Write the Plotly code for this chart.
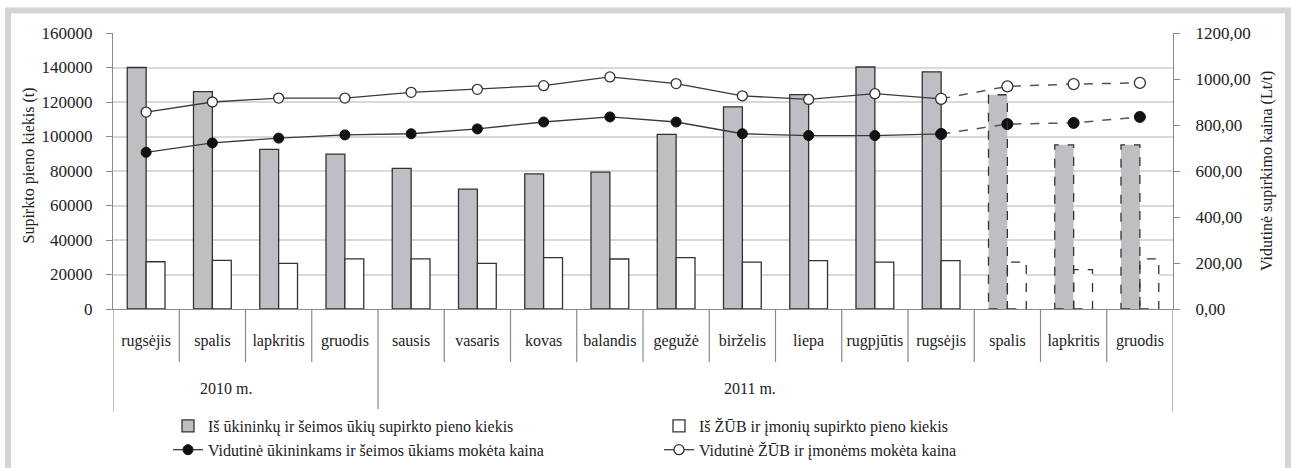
import plotly.graph_objects as go

months = ["rugsėjis", "spalis", "lapkritis", "gruodis", "sausis", "vasaris", "kovas",
          "balandis", "gegužė", "birželis", "liepa", "rugpjūtis", "rugsėjis", "spalis",
          "lapkritis", "gruodis"]
years = ["2010 m.", "2011 m."]
farm_qty = [140000, 126000, 92500, 89800, 81500, 69500, 78300, 79300, 101200, 117200,
            124300, 140300, 137500, 124200, 95200, 95200]
company_qty = [27400, 28200, 26400, 29100, 29100, 26400, 29800, 29000, 29800, 27200,
               28000, 27200, 28000, 27200, 22800, 29100]
farm_price = [681, 722, 743, 757, 762, 783, 813, 835, 813, 762, 754, 754, 761, 804, 809, 835]
company_price = [856, 900, 917, 917, 942, 955, 971, 1009, 980, 927, 911, 936, 914, 968, 978, 983]
left_ticks = [0, 20000, 40000, 60000, 80000, 100000, 120000, 140000, 160000]
left_text = ["0", "20000", "40000", "60000", "80000", "100000", "120000", "140000", "160000"]
right_ticks = [0, 200, 400, 600, 800, 1000, 1200]
right_text = ["0,00", "200,00", "400,00", "600,00", "800,00", "1000,00", "1200,00"]
n_actual = 13  # first 13 months actual, rest forecast

idx = list(range(len(months)))
FONT = '"Liberation Serif", "Times New Roman", Times, serif'
BW = 0.285
TXT = "#222222"

fig = go.Figure()
fig.add_trace(go.Bar(
    x=idx, y=farm_qty, width=BW, offset=-BW,
    name="Iš ūkininkų ir šeimos ūkių supirkto pieno kiekis",
    marker=dict(color="#bebfc3",
                line=dict(color="#333333",
                          width=[1.3] * n_actual + [0] * (len(idx) - n_actual))),
))
fig.add_trace(go.Bar(
    x=idx, y=company_qty, width=BW, offset=0,
    name="Iš ŽŪB ir įmonių supirkto pieno kiekis",
    marker=dict(color="white",
                line=dict(color="#333333",
                          width=[1.3] * n_actual + [0] * (len(idx) - n_actual))),
))
fig.add_trace(go.Scatter(
    x=idx[:n_actual], y=farm_price[:n_actual], yaxis="y2", mode="lines+markers",
    name="Vidutinė ūkininkams ir šeimos ūkiams mokėta kaina",
    line=dict(color="#3a3a3a", width=1.3),
    marker=dict(color="#111111", size=10, line=dict(color="#111111", width=1)),
))
fig.add_trace(go.Scatter(
    x=idx[:n_actual], y=company_price[:n_actual], yaxis="y2", mode="lines+markers",
    name="Vidutinė ŽŪB ir įmonėms mokėta kaina",
    line=dict(color="#3a3a3a", width=1.3),
    marker=dict(color="white", size=10, line=dict(color="#333333", width=1.3)),
))
fig.add_trace(go.Scatter(
    x=idx[n_actual - 1:], y=farm_price[n_actual - 1:], yaxis="y2", mode="lines+markers",
    showlegend=False,
    line=dict(color="#555555", width=1.5, dash="dash"),
    marker=dict(color="#111111", size=11, line=dict(color="#111111", width=1)),
))
fig.add_trace(go.Scatter(
    x=idx[n_actual - 1:], y=company_price[n_actual - 1:], yaxis="y2", mode="lines+markers",
    showlegend=False,
    line=dict(color="#555555", width=1.5, dash="dash"),
    marker=dict(color="white", size=11, line=dict(color="#333333", width=1.3)),
))

shapes = []
# dashed outlines of forecast bars
for i in idx[n_actual:]:
    shapes.append(dict(type="rect", xref="x", yref="y", x0=i - BW, x1=i, y0=0, y1=farm_qty[i],
                       line=dict(color="#333333", width=1.3, dash="dash")))
    shapes.append(dict(type="rect", xref="x", yref="y", x0=i, x1=i + BW, y0=0, y1=company_qty[i],
                       line=dict(color="#333333", width=1.3, dash="dash")))

# category separators
H = 276.0
short_y = -(362 - 309) / H
long_y = -(411.7 - 309) / H
for k in range(len(idx) + 1):
    xb = k - 0.5
    long = k in (0, 4, len(idx))
    shapes.append(dict(type="line", xref="x", yref="paper", x0=xb, x1=xb, y0=0,
                       y1=long_y if long else short_y,
                       line=dict(color="#8a8a8a", width=1.2)))

# outer grey frame
W = 1060.0
shapes.append(dict(type="rect", xref="paper", yref="paper",
                   x0=(8 - 113) / W, x1=(1288 - 113) / W,
                   y0=(309 - 480) / H, y1=(309 - 10.5) / H,
                   line=dict(color="#d4d4d4", width=6), layer="below"))

annotations = [
    dict(text=years[0], x=1.2, y=-(388 - 309) / H, xref="x", yref="paper",
         xanchor="center", yanchor="middle",
         showarrow=False, font=dict(family=FONT, size=16, color=TXT)),
    dict(text=years[1], x=9.11, y=-(388 - 309) / H, xref="x", yref="paper",
         xanchor="center", yanchor="middle",
         showarrow=False, font=dict(family=FONT, size=16, color=TXT)),
    dict(text="Supirkto pieno kiekis (t)", x=(29 - 113) / W, y=0.52, xref="paper",
         yref="paper", textangle=-90, showarrow=False, xanchor="center", yanchor="middle",
         font=dict(family=FONT, size=16, color=TXT)),
    dict(text="Vidutinė supirkimo kaina (Lt/t)", x=(1267 - 113) / W, y=0.5, xref="paper",
         yref="paper", textangle=-90, showarrow=False, xanchor="center", yanchor="middle",
         font=dict(family=FONT, size=16, color=TXT)),
]

fig.update_layout(
    width=1292, height=468,
    margin=dict(l=113, r=119, t=33, b=159, autoexpand=False),
    paper_bgcolor="white", plot_bgcolor="white",
    barmode="overlay",
    font=dict(family=FONT, size=16, color=TXT),
    showlegend=True,
    legend=dict(orientation="h", xref="container", yref="container",
                x=168 / 1292, y=1 - 409 / 468,
                xanchor="left", yanchor="top", entrywidth=446,
                font=dict(family=FONT, size=16, color=TXT),
                tracegroupgap=0, itemwidth=30),
    shapes=shapes,
    annotations=annotations,
    xaxis=dict(range=[-0.5, len(idx) - 0.5], tickvals=idx, ticktext=months,
               showgrid=False, showline=True, linecolor="#8a8a8a", linewidth=1.3,
               ticks="", ticklabelstandoff=17, zeroline=False,
               tickfont=dict(family=FONT, size=16, color=TXT), automargin=False),
    yaxis=dict(range=[0, 160000], tickvals=left_ticks, ticktext=left_text,
               showgrid=True, gridcolor="#d9d9d9", gridwidth=1.5,
               showline=True, linecolor="#8a8a8a", linewidth=1.3,
               ticks="outside", ticklen=6, tickcolor="#8a8a8a", ticklabelstandoff=10,
               zeroline=False, tickfont=dict(family=FONT, size=17, color=TXT),
               automargin=False),
    yaxis2=dict(range=[0, 1200], tickvals=right_ticks, ticktext=right_text,
                overlaying="y", side="right", showgrid=False,
                showline=True, linecolor="#8a8a8a", linewidth=1.3,
                ticks="outside", ticklen=6, tickcolor="#8a8a8a", ticklabelstandoff=12,
                zeroline=False, tickfont=dict(family=FONT, size=17, color=TXT),
                automargin=False),
)

fig.write_html("out.html", config={"displayModeBar": False},
               post_script="document.body.style.margin='0px';")
